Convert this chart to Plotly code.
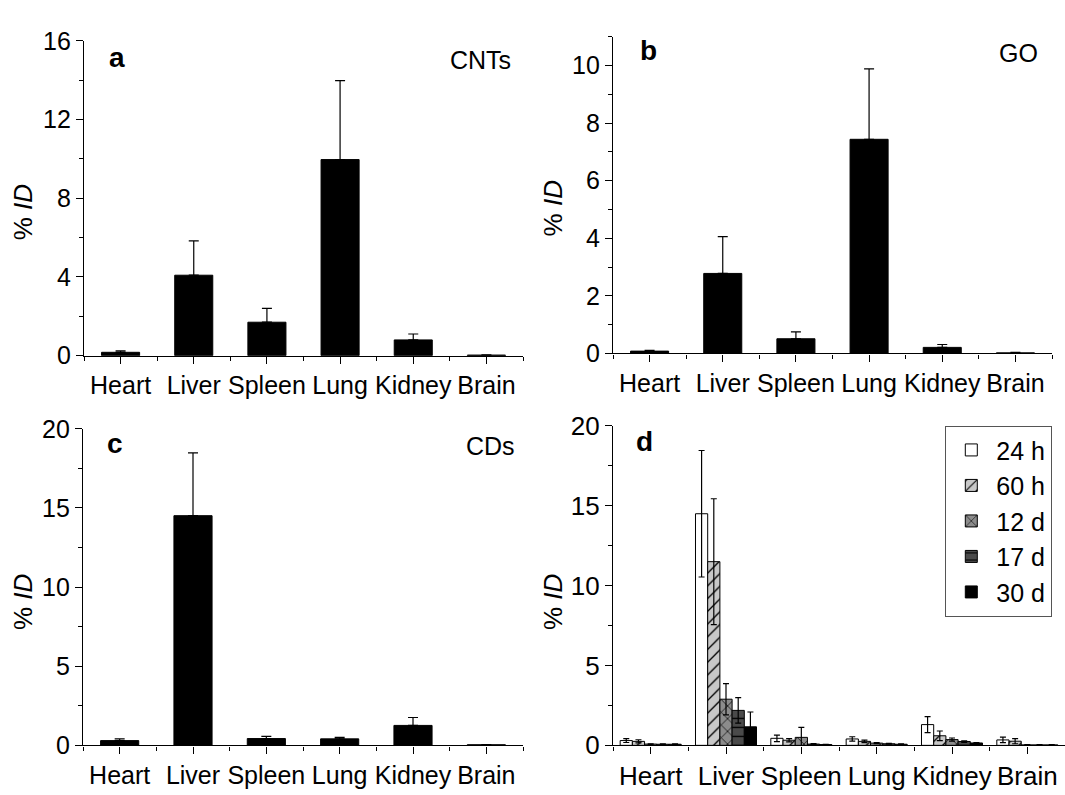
import plotly.graph_objects as go

organs = ["Heart", "Liver", "Spleen", "Lung", "Kidney", "Brain"]

cnt_vals = [0.17, 4.09, 1.70, 9.97, 0.80, 0.03]
cnt_err = [0.07, 1.75, 0.70, 4.01, 0.30, 0.01]
go_vals = [0.08, 2.78, 0.51, 7.44, 0.21, 0.02]
go_err = [0.03, 1.28, 0.24, 2.45, 0.10, 0.02]
cd_vals = [0.30, 14.51, 0.43, 0.41, 1.26, 0.04]
cd_err = [0.11, 3.97, 0.14, 0.10, 0.50, 0.01]

time_names = ["24 h", "60 h", "12 d", "17 d", "30 d"]
d_24h = [0.30, 14.50, 0.44, 0.40, 1.30, 0.34]
d_24h_err = [0.12, 3.96, 0.20, 0.14, 0.50, 0.17]
d_60h = [0.25, 11.50, 0.32, 0.25, 0.60, 0.26]
d_60h_err = [0.10, 3.94, 0.10, 0.08, 0.30, 0.16]
d_12d = [0.08, 2.89, 0.50, 0.14, 0.36, 0.03]
d_12d_err = [0.02, 0.98, 0.62, 0.03, 0.10, 0.01]
d_17d = [0.07, 2.19, 0.08, 0.10, 0.24, 0.03]
d_17d_err = [0.02, 0.80, 0.03, 0.02, 0.05, 0.01]
d_30d = [0.07, 1.16, 0.05, 0.07, 0.15, 0.03]
d_30d_err = [0.02, 0.93, 0.02, 0.02, 0.03, 0.01]

d_vals = [d_24h, d_60h, d_12d, d_17d, d_30d]
d_errs = [d_24h_err, d_60h_err, d_12d_err, d_17d_err, d_30d_err]
d_bg = ["#ffffff", "#c8c8c8", "#8c8c8c", "#4a4a4a", "#000000"]
d_shape = ["", "/", "x", "-", ""]

W, H = 1065, 795
FONT = "Liberation Sans, Arial, sans-serif"
xpos = list(range(len(organs)))


def fx(px):
    return px / W


def fy(py):
    return 1 - py / H


fig = go.Figure()

# panels a,b,c (single series)
single = [
    ("x", "y", cnt_vals, cnt_err),
    ("x2", "y2", go_vals, go_err),
    ("x3", "y3", cd_vals, cd_err),
]
for xa, ya, vals, errs in single:
    fig.add_trace(go.Bar(
        x=xpos, y=vals, width=0.52, xaxis=xa, yaxis=ya,
        marker=dict(color="black", line=dict(color="black", width=1)),
        error_y=dict(type="data", array=errs, arrayminus=[0] * len(errs),
                     symmetric=False, color="black", thickness=1.2, width=5),
        showlegend=False,
    ))

# panel d (grouped)
for name, vals, errs, bg, shp in zip(time_names, d_vals, d_errs, d_bg, d_shape):
    marker = dict(color=bg, line=dict(color="black", width=1))
    if shp:
        marker["pattern"] = dict(shape=shp, fillmode="replace", bgcolor=bg,
                                 fgcolor="black", size=9, solidity=0.15)
    fig.add_trace(go.Bar(
        x=xpos, y=vals, name=name, xaxis="x4", yaxis="y4",
        marker=marker,
        error_y=dict(type="data", array=errs, color="black", thickness=1.2, width=3),
    ))

axis_common = dict(showline=True, linecolor="black", linewidth=1.3, ticks="outside",
                   tickcolor="black", tickwidth=1.2, ticklen=7, showgrid=False,
                   zeroline=False, mirror=False)

panels = [
    # xaxis name, yaxis name, x domain px, y px (bottom, top), yrange, dtick, minor dtick, font
    ("xaxis", "yaxis", (84, 523), (354, 27), 16, 4, 2, 25),
    ("xaxis2", "yaxis2", (613, 1052), (351.7, 22.7), 11, 2, 1, 25),
    ("xaxis3", "yaxis3", (83, 523), (759, 430), 20, 5, 2.5, 25),
    ("xaxis4", "yaxis4", (613, 1065), (759, 427), 20, 5, 2.5, 26),
]
layout = {}
for i, (xn, yn, (x0, x1), (yb, yt), ymax, dt, mdt, fs) in enumerate(panels):
    anchor_y = "y" if i == 0 else f"y{i+1}"
    anchor_x = "x" if i == 0 else f"x{i+1}"
    layout[xn] = dict(axis_common, domain=[fx(x0), fx(x1)], anchor=anchor_y,
                      range=[-0.5, 5.5], tickmode="array", tickvals=xpos,
                      ticktext=organs, tickfont=dict(size=fs, color="black", family=FONT),
                      minor=dict(tickmode="array", tickvals=[k + 0.5 for k in range(-1, 6)],
                                 ticks="outside", ticklen=4, tickcolor="black", tickwidth=1.2))
    layout[yn] = dict(axis_common, domain=[fy(yb), fy(yt)], anchor=anchor_x,
                      range=[0, ymax], tickmode="linear", tick0=0, dtick=dt,
                      tickfont=dict(size=fs, color="black", family=FONT),
                      minor=dict(tickmode="linear", tick0=0, dtick=mdt, ticks="outside",
                                 ticklen=4, tickcolor="black", tickwidth=1.2))

annotations = []
labels = [("a", 117, 44.5), ("b", 648, 37), ("c", 115, 445), ("d", 644, 443.5)]
for t, x, y in labels:
    annotations.append(dict(text=f"<b>{t}</b>", x=fx(x), y=fy(y), xref="paper", yref="paper",
                            showarrow=False, xanchor="center", yanchor="middle",
                            font=dict(size=28, color="black", family=FONT)))
names = [("CNTs", 513, 46.3), ("GO", 1040, 39.6), ("CDs", 517, 448)]
for t, x, y in names:
    annotations.append(dict(text=t, x=fx(x), y=fy(y), xref="paper", yref="paper",
                            showarrow=False, xanchor="right", yanchor="middle",
                            font=dict(size=25, color="black", family=FONT)))
ytitles = [(23, 205), (553, 201), (23, 610), (553, 610)]
for x, y in ytitles:
    annotations.append(dict(text="% <i>ID</i>", x=fx(x), y=fy(y), xref="paper", yref="paper",
                            showarrow=False, xanchor="center", yanchor="middle", textangle=-90,
                            font=dict(size=26, color="black", family=FONT)))

fig.update_layout(
    width=W, height=H,
    margin=dict(l=0, r=0, t=0, b=0),
    paper_bgcolor="white", plot_bgcolor="white",
    barmode="group", bargap=0.19, bargroupgap=0,
    font=dict(family=FONT, color="black"),
    annotations=annotations,
    legend=dict(x=fx(945), y=fy(427), xanchor="left", yanchor="top",
                bordercolor="#555555", borderwidth=1.3, bgcolor="white",
                font=dict(size=25, color="black", family=FONT),
                tracegroupgap=0, itemwidth=40),
    **layout,
)

fig.write_html("out.html")
